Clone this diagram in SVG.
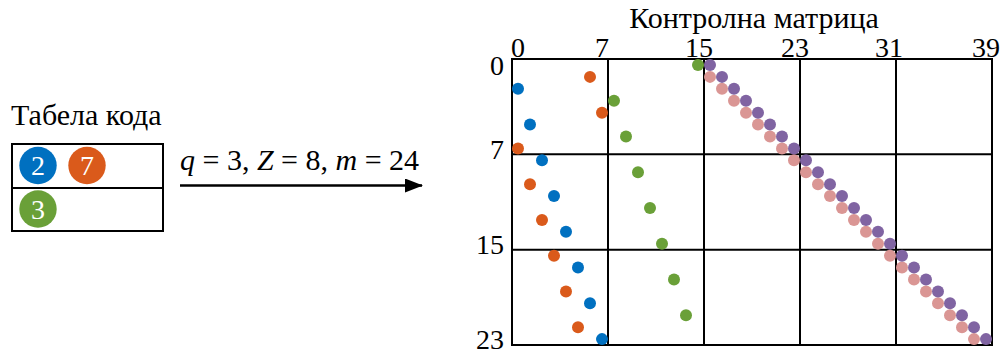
<svg xmlns="http://www.w3.org/2000/svg" width="1002" height="353" viewBox="0 0 1002 353">
<style>
text{font-family:"Liberation Serif","Times New Roman",serif;fill:#000}
.t{font-size:30px}
.d{font-size:28px}
.n{font-size:28px;fill:#fff}
.ln{stroke:#000;stroke-width:2;fill:none}
.b{fill:#0070C0}.o{fill:#DA5A1B}.g{fill:#6AA038}.p{fill:#8064A2}.k{fill:#DA9694}
</style>
<defs>
<marker id="ah" markerWidth="18" markerHeight="14" refX="17" refY="7" orient="auto" markerUnits="userSpaceOnUse">
<path d="M0,0 L18,7 L0,14 Z" fill="#000"/>
</marker>
</defs>
<rect width="1002" height="353" fill="#fff"/>
<g id="code-table">
<text class="t" x="11" y="125">Табела кода</text>
<rect class="ln" x="12" y="144" width="151" height="87"/>
<line class="ln" x1="12" y1="188" x2="163" y2="188"/>
<circle class="b" cx="38" cy="165.5" r="18.7"/>
<text class="n" x="38" y="175" text-anchor="middle">2</text>
<circle class="o" cx="87" cy="165.5" r="18.7"/>
<text class="n" x="87" y="175" text-anchor="middle">7</text>
<circle class="g" cx="38" cy="209" r="18.7"/>
<text class="n" x="38" y="218.5" text-anchor="middle">3</text>
</g>
<g id="connectors">
<line x1="180" y1="185.5" x2="422" y2="185.5" stroke="#000" stroke-width="2.5" marker-end="url(#ah)"/>
<text class="t" x="180" y="170"><tspan font-style="italic">q</tspan> = 3, <tspan font-style="italic">Z</tspan> = 8, <tspan font-style="italic">m</tspan> = 24</text>
</g>
<g id="control-matrix">
<text class="t" x="754" y="28" text-anchor="middle">Контролна матрица</text>
<g text-anchor="middle">
<text class="d" x="518" y="56.5">0</text>
<text class="d" x="602" y="56.5">7</text>
<text class="d" x="699" y="56.5">15</text>
<text class="d" x="795" y="56.5">23</text>
<text class="d" x="889" y="56.5">31</text>
<text class="d" x="986" y="56.5">39</text>
</g>
<g text-anchor="end">
<text class="d" x="504" y="74.5">0</text>
<text class="d" x="504" y="158.5">7</text>
<text class="d" x="504" y="254">15</text>
<text class="d" x="504" y="349">23</text>
</g>
<rect class="ln" x="512" y="59" width="480" height="286"/>
<line class="ln" x1="608" y1="59" x2="608" y2="345"/>
<line class="ln" x1="704" y1="59" x2="704" y2="345"/>
<line class="ln" x1="800" y1="59" x2="800" y2="345"/>
<line class="ln" x1="896" y1="59" x2="896" y2="345"/>
<line class="ln" x1="512" y1="154.36" x2="992" y2="154.36"/>
<line class="ln" x1="512" y1="249.72" x2="992" y2="249.72"/>
<g id="dots-blue" class="b">
<circle cx="518" cy="88.8" r="6"/><circle cx="530" cy="124.56" r="6"/><circle cx="542" cy="160.32" r="6"/><circle cx="554" cy="196.08" r="6"/>
<circle cx="566" cy="231.84" r="6"/><circle cx="578" cy="267.6" r="6"/><circle cx="590" cy="303.36" r="6"/><circle cx="602" cy="339.12" r="6"/>
</g>
<g id="dots-orange" class="o">
<circle cx="590" cy="76.88" r="6"/><circle cx="602" cy="112.64" r="6"/><circle cx="518" cy="148.4" r="6"/><circle cx="530" cy="184.16" r="6"/>
<circle cx="542" cy="219.92" r="6"/><circle cx="554" cy="255.68" r="6"/><circle cx="566" cy="291.44" r="6"/><circle cx="578" cy="327.2" r="6"/>
</g>
<g id="dots-pink" class="k">
<circle cx="710" cy="76.88" r="6"/><circle cx="722" cy="88.8" r="6"/><circle cx="734" cy="100.72" r="6"/><circle cx="746" cy="112.64" r="6"/>
<circle cx="758" cy="124.56" r="6"/><circle cx="770" cy="136.48" r="6"/><circle cx="782" cy="148.4" r="6"/><circle cx="794" cy="160.32" r="6"/>
<circle cx="806" cy="172.24" r="6"/><circle cx="818" cy="184.16" r="6"/><circle cx="830" cy="196.08" r="6"/><circle cx="842" cy="208" r="6"/>
<circle cx="854" cy="219.92" r="6"/><circle cx="866" cy="231.84" r="6"/><circle cx="878" cy="243.76" r="6"/><circle cx="890" cy="255.68" r="6"/>
<circle cx="902" cy="267.6" r="6"/><circle cx="914" cy="279.52" r="6"/><circle cx="926" cy="291.44" r="6"/><circle cx="938" cy="303.36" r="6"/>
<circle cx="950" cy="315.28" r="6"/><circle cx="962" cy="327.2" r="6"/><circle cx="974" cy="339.12" r="6"/>
</g>
<g id="dots-purple" class="p">
<circle cx="710" cy="64.96" r="6"/><circle cx="722" cy="76.88" r="6"/><circle cx="734" cy="88.8" r="6"/><circle cx="746" cy="100.72" r="6"/>
<circle cx="758" cy="112.64" r="6"/><circle cx="770" cy="124.56" r="6"/><circle cx="782" cy="136.48" r="6"/><circle cx="794" cy="148.4" r="6"/>
<circle cx="806" cy="160.32" r="6"/><circle cx="818" cy="172.24" r="6"/><circle cx="830" cy="184.16" r="6"/><circle cx="842" cy="196.08" r="6"/>
<circle cx="854" cy="208" r="6"/><circle cx="866" cy="219.92" r="6"/><circle cx="878" cy="231.84" r="6"/><circle cx="890" cy="243.76" r="6"/>
<circle cx="902" cy="255.68" r="6"/><circle cx="914" cy="267.6" r="6"/><circle cx="926" cy="279.52" r="6"/><circle cx="938" cy="291.44" r="6"/>
<circle cx="950" cy="303.36" r="6"/><circle cx="962" cy="315.28" r="6"/><circle cx="974" cy="327.2" r="6"/><circle cx="986" cy="339.12" r="6"/>
</g>
<g id="dots-green" class="g">
<circle cx="698" cy="64.96" r="6"/><circle cx="614" cy="100.72" r="6"/><circle cx="626" cy="136.48" r="6"/><circle cx="638" cy="172.24" r="6"/>
<circle cx="650" cy="208" r="6"/><circle cx="662" cy="243.76" r="6"/><circle cx="674" cy="279.52" r="6"/><circle cx="686" cy="315.28" r="6"/>
</g>
</g>
</svg>
